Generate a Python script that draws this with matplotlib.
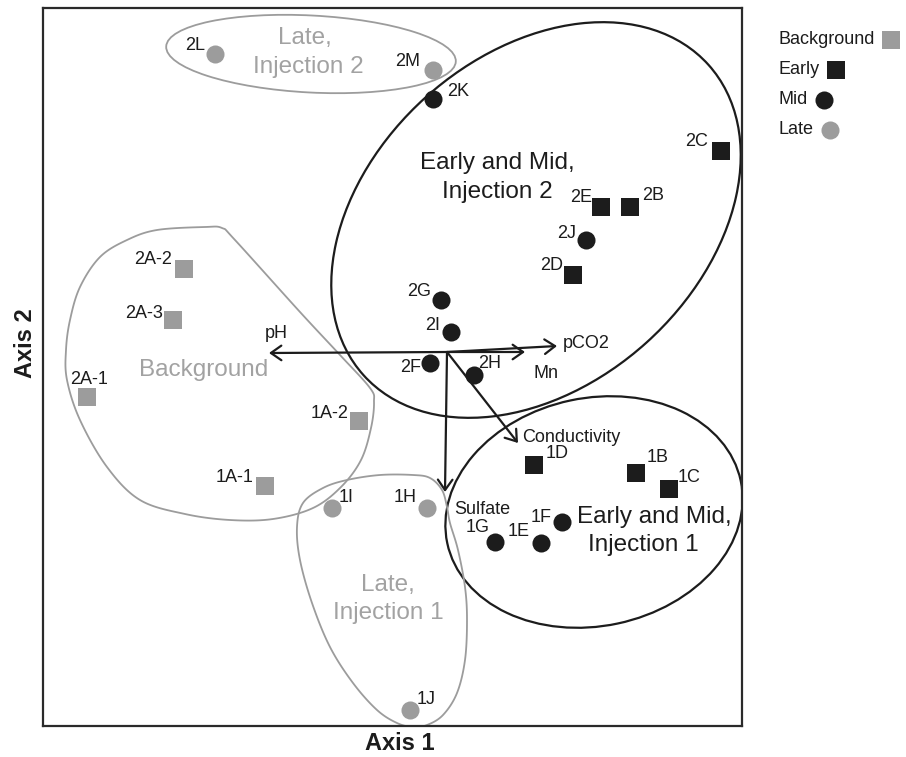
import numpy as np
import matplotlib
matplotlib.use("Agg")
import matplotlib.pyplot as plt
from matplotlib.patches import Ellipse, Polygon
from matplotlib.lines import Line2D

plt.rcParams['font.family'] = ['Liberation Sans', 'DejaVu Sans']

# ---- ordination scores (Axis 1, Axis 2) ----
background_names = ['2A-2', '2A-3', '2A-1', '1A-2', '1A-1']
background_x = [-2.63, -2.74, -3.60, -0.88, -1.82]
background_y = [0.83, 0.32, -0.45, -0.69, -1.34]

early_names = ['2C', '2E', '2B', '2D', '1D', '1B', '1C']
early_x = [2.74, 1.54, 1.83, 1.26, 0.87, 1.89, 2.22]
early_y = [2.01, 1.45, 1.45, 0.77, -1.13, -1.21, -1.37]

mid_names = ['2K', '2J', '2G', '2I', '2F', '2H', '1F', '1E', '1G']
mid_x = [-0.14, 1.39, -0.06, 0.04, -0.17, 0.27, 1.15, 0.94, 0.48]
mid_y = [2.53, 1.12, 0.52, 0.20, -0.11, -0.23, -1.70, -1.91, -1.90]

late_names = ['2L', '2M', '1I', '1H', '1J']
late_x = [-2.32, -0.14, -1.15, -0.20, -0.37]
late_y = [2.98, 2.82, -1.56, -1.56, -3.58]

# ---- environmental vectors ----
vector_names = ['pH', 'pCO2', 'Mn', 'Conductivity', 'Sulfate']
vector_x = [-1.78, 1.10, 0.78, 0.71, -0.02]
vector_y = [-0.01, 0.06, 0.00, -0.91, -1.40]

legend_labels = ['Background', 'Early', 'Mid', 'Late']

GRAY = '#9c9c9c'
GRAY_TXT = '#a2a2a2'
DARK = '#1c1c1c'

# label placement: (dx px, dy px, ha)
label_pos = {
    '2A-2': (-12, 9, 'right'), '2A-3': (-10, 7, 'right'), '2A-1': (2, 17, 'center'),
    '1A-2': (-11, 8, 'right'), '1A-1': (-12, 9, 'right'),
    '2C': (-13, 9, 'right'), '2E': (-9, 9, 'right'), '2B': (12, 11, 'left'),
    '2D': (-10, 10, 'right'), '1D': (12, 12, 'left'), '1B': (11, 15, 'left'),
    '1C': (9, 12, 'left'),
    '2K': (14, 7, 'left'), '2J': (-10, 7, 'right'), '2G': (-10, 8, 'right'),
    '2I': (-11, 7, 'right'), '2F': (-9, -5, 'right'), '2H': (4, 12, 'left'),
    '1F': (-10, 5, 'right'), '1E': (-11, 11, 'right'), '1G': (-5, 14, 'right'),
    '2L': (-10, 9, 'right'), '2M': (-13, 8, 'right'), '1I': (7, 11, 'left'),
    '1H': (-10, 11, 'right'), '1J': (7, 10, 'left'),
}
vector_label_pos = {
    'pH': (7, 20, 'center'), 'pCO2': (6, 3, 'left'), 'Mn': (21, -21, 'center'),
    'Conductivity': (4, 6, 'left'), 'Sulfate': (37, -18, 'center'),
}

# group names, one entry per text line: (text, x, y, colour)
group_lines = [
    ('Late,', -1.42, 3.14, GRAY_TXT), ('Injection 2', -1.39, 2.85, GRAY_TXT),
    ('Early and Mid,', 0.50, 1.89, DARK), ('Injection 2', 0.50, 1.60, DARK),
    ('Early and Mid,', 2.07, -1.65, DARK), ('Injection 1', 1.96, -1.93, DARK),
    ('Background', -2.43, -0.18, GRAY_TXT),
    ('Late,', -0.59, -2.33, GRAY_TXT), ('Injection 1', -0.59, -2.61, GRAY_TXT),
]


def closed_curve(pts, n=24):
    """Smooth closed Catmull-Rom curve through the given outline points."""
    pts = np.asarray(pts, dtype=float)
    N = len(pts)
    out = []
    t = np.linspace(0, 1, n, endpoint=False)[:, None]
    for i in range(N):
        p0, p1, p2, p3 = pts[i - 1], pts[i], pts[(i + 1) % N], pts[(i + 2) % N]
        seg = 0.5 * ((2 * p1) + (-p0 + p2) * t + (2 * p0 - 5 * p1 + 4 * p2 - p3) * t ** 2
                     + (-p0 + 3 * p1 - 3 * p2 + p3) * t ** 3)
        out.append(seg)
    return np.vstack(out)


# group outlines (score units)
background_outline = [(-2.42, 1.25), (-2.25, 1.24), (-2.12, 1.12), (-1.47, 0.40),
                      (-1.07, -0.03), (-0.77, -0.36), (-0.73, -0.50), (-0.76, -0.76),
                      (-0.86, -1.08), (-1.06, -1.35), (-1.34, -1.56), (-1.74, -1.67),
                      (-2.17, -1.68), (-2.62, -1.62), (-3.07, -1.48), (-3.40, -1.15),
                      (-3.67, -0.68), (-3.80, -0.28), (-3.81, 0.02), (-3.77, 0.32),
                      (-3.67, 0.65), (-3.47, 0.95), (-3.20, 1.12), (-2.90, 1.22)]
late1_outline = [(-1.44, -1.51), (-1.24, -1.36), (-1.00, -1.28), (-0.67, -1.23),
                 (-0.34, -1.23), (-0.17, -1.26), (-0.05, -1.38), (0.00, -1.55),
                 (0.03, -1.71), (0.11, -1.98), (0.18, -2.35), (0.20, -2.68),
                 (0.18, -3.08), (0.10, -3.41), (-0.04, -3.63), (-0.20, -3.73),
                 (-0.34, -3.75), (-0.50, -3.71), (-0.70, -3.58), (-0.94, -3.31),
                 (-1.17, -2.95), (-1.35, -2.51), (-1.47, -2.08), (-1.50, -1.75)]

fig = plt.figure(figsize=(9.06, 7.57), dpi=100)
ax = fig.add_axes([43 / 906, 1 - 726 / 757, 699 / 906, 718 / 757])
ax.set_xlim(-4.04, 2.95)
ax.set_ylim(-3.74, 3.44)
ax.set_xticks([])
ax.set_yticks([])
for s in ax.spines.values():
    s.set_linewidth(1.6)
    s.set_color('#2a2a2a')

# group outlines
ax.add_patch(Ellipse((-1.36, 2.98), 2.90, 0.77, angle=-3, fill=False,
                     edgecolor=GRAY, lw=1.3, zorder=1))
ax.add_patch(Ellipse((0.89, 1.32), 4.64, 3.30, angle=42, fill=False,
                     edgecolor=DARK, lw=1.6, zorder=1))
ax.add_patch(Ellipse((1.47, -1.60), 3.00, 2.28, angle=12, fill=False,
                     edgecolor=DARK, lw=1.6, zorder=1))
ax.add_patch(Polygon(closed_curve(background_outline), closed=True, fill=False,
                     edgecolor=GRAY, lw=1.3, zorder=1))
ax.add_patch(Polygon(closed_curve(late1_outline), closed=True, fill=False,
                     edgecolor=GRAY, lw=1.3, zorder=1))

# environmental vectors
for name, vx, vy in zip(vector_names, vector_x, vector_y):
    ax.annotate('', xy=(vx, vy), xytext=(0, 0),
                arrowprops=dict(arrowstyle='->,head_length=0.5,head_width=0.35',
                                lw=1.6, color=DARK, shrinkA=0, shrinkB=0,
                                mutation_scale=15), zorder=2)
    dx, dy, ha = vector_label_pos[name]
    ax.annotate(name, xy=(vx, vy), xytext=(dx, dy), textcoords='offset pixels',
                ha=ha, va='center', fontsize=13, color=DARK, zorder=4)

# samples
groups = [
    (background_names, background_x, background_y, 's', GRAY),
    (early_names, early_x, early_y, 's', DARK),
    (mid_names, mid_x, mid_y, 'o', DARK),
    (late_names, late_x, late_y, 'o', GRAY),
]
for names, xs, ys, mk, col in groups:
    ax.plot(xs, ys, linestyle='none', marker=mk, markersize=13, color=col,
            markeredgewidth=0, zorder=3)
    for n, x, y in zip(names, xs, ys):
        dx, dy, ha = label_pos[n]
        ax.annotate(n, xy=(x, y), xytext=(dx, dy), textcoords='offset pixels',
                    ha=ha, va='center', fontsize=13, color=DARK, zorder=4)

# group names
for txt, gx, gy, col in group_lines:
    ax.text(gx, gy, txt, ha='center', va='center', fontsize=17.5, color=col)

# axis titles
fig.text(400 / 906, 1 - 743 / 757, 'Axis 1', ha='center', va='center',
         fontsize=17, fontweight='bold', color=DARK)
fig.text(25 / 906, 1 - 343 / 757, 'Axis 2', ha='center', va='center',
         rotation=90, fontsize=17, fontweight='bold', color=DARK)

# legend: text first, marker after it
legend_style = [('s', GRAY), ('s', DARK), ('o', DARK), ('o', GRAY)]
legend_rows = [40, 70, 100, 130]
texts = []
for lab, row in zip(legend_labels, legend_rows):
    texts.append(fig.text(778 / 906, 1 - row / 757, lab, ha='left', va='center',
                          fontsize=13, color=DARK))
fig.canvas.draw()
renderer = fig.canvas.get_renderer()
W, H = fig.bbox.width, fig.bbox.height
for t, (mk, col), row in zip(texts, legend_style, legend_rows):
    bb = t.get_window_extent(renderer)
    fig.add_artist(Line2D([(bb.x1 + 17) / W], [1 - row / 757], marker=mk,
                          markersize=13, color=col, markeredgewidth=0,
                          linestyle='none', transform=fig.transFigure))

fig.savefig('out.png', dpi=100)
